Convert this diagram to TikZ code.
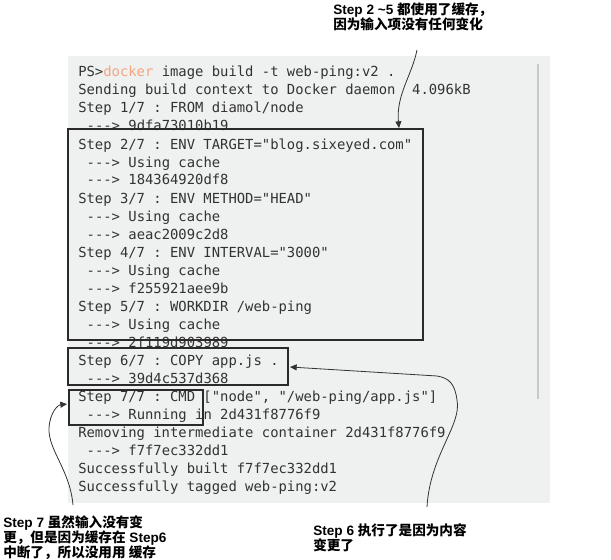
\documentclass[tikz,border=0pt]{standalone}
\usepackage{fontspec}
\setsansfont{Liberation Sans}
\newfontfamily\termfont{DejaVu Sans Mono}[Ligatures=TeXOff]
\newfontfamily\cjk{Noto Sans CJK SC}
\usetikzlibrary{arrows.meta,fit}
\definecolor{termbg}{RGB}{239,240,240}
\definecolor{termtext}{RGB}{51,51,51}
\definecolor{dockerorange}{RGB}{245,165,130}
\definecolor{scrollgray}{RGB}{200,200,200}
\definecolor{boxline}{RGB}{42,42,42}
\newcommand{\zh}[1]{{\cjk\bfseries #1}}
\frenchspacing
\begin{document}
\begin{tikzpicture}[x=0.75pt,y=0.75pt,yscale=-1,xscale=1,
  term/.style={anchor=base west,inner sep=0pt,text=termtext,font=\termfont\frenchspacing\fontsize{10.4}{13.5}\selectfont},
  box/.style={draw=boxline,line width=1.8pt,inner sep=0pt},
  note/.style={anchor=north west,inner sep=0pt,align=left,font=\sffamily\bfseries\fontsize{10.2}{11.25}\selectfont},
  note arrow/.style={draw=black!80,line width=0.6pt,-{Triangle[length=5pt,width=4.5pt]}}]
\useasboundingbox (0,0) rectangle (611,560);

%Shape: Rectangle (terminal background)
\fill [termbg] (68,56) rectangle (550,503);
%Straight Lines (scroll bar)
\draw [scrollgray,line width=2.2pt] (538,64) -- (538,399);

% Text Node
\node [term] (ps) at (78,77) {PS>\textcolor{dockerorange}{docker} image build -t web-ping:v2 .};
% Text Node
\node [term] (send) at (78,95) {Sending build context to Docker daemon~~4.096kB};
% Text Node
\node [term] (s1) at (78,113) {Step 1/7 : FROM diamol/node};
% Text Node
\node [term] (s1id) at (86.4,131) {---> 9dfa73010b19};
% Text Node
\node [term] (s2) at (78,149) {Step 2/7 : ENV TARGET="blog.sixeyed.com"};
% Text Node
\node [term] (s2c) at (86.4,167) {---> Using cache};
% Text Node
\node [term] (s2id) at (86.4,185) {---> 184364920df8};
% Text Node
\node [term] (s3) at (78,203) {Step 3/7 : ENV METHOD="HEAD"};
% Text Node
\node [term] (s3c) at (86.4,221) {---> Using cache};
% Text Node
\node [term] (s3id) at (86.4,239) {---> aeac2009c2d8};
% Text Node
\node [term] (s4) at (78,257) {Step 4/7 : ENV INTERVAL="3000"};
% Text Node
\node [term] (s4c) at (86.4,275) {---> Using cache};
% Text Node
\node [term] (s4id) at (86.4,293) {---> f255921aee9b};
% Text Node
\node [term] (s5) at (78,311) {Step 5/7 : WORKDIR /web-ping};
% Text Node
\node [term] (s5c) at (86.4,329) {---> Using cache};
% Text Node
\node [term] (s5id) at (86.4,347) {---> 2f119d903989};
% Text Node
\node [term] (s6) at (78,365) {Step 6/7 : COPY app.js .};
% Text Node
\node [term] (s6id) at (86.4,383) {---> 39d4c537d368};
% Text Node
\node [term] (s7) at (78,401) {Step 7/7 : CMD ["node", "/web-ping/app.js"]};
% Text Node
\node [term] (s7run) at (86.4,419) {---> Running in 2d431f8776f9};
% Text Node
\node [term] (rm) at (78,437) {Removing intermediate container 2d431f8776f9};
% Text Node
\node [term] (s7id) at (86.4,455) {---> f7f7ec332dd1};
% Text Node
\node [term] (built) at (78,473) {Successfully built f7f7ec332dd1};
% Text Node
\node [term] (tagged) at (78,491) {Successfully tagged web-ping:v2};

%Shape: Rectangle (steps 2-5)
\node [box,fit={(68,129) (423,340)}] (cached) {};
%Shape: Rectangle (step 6)
\node [box,fit={(68,348) (288,385)}] (copied) {};
%Shape: Rectangle (step 7)
\node [box,fit={(69,390) (203,425)}] (cmd) {};

% Text Node
\node [note] (noteTop) at (333,3) {Step 2 \textasciitilde5 \zh{都使用了缓存，}\\\zh{因为输入项没有任何变化}};
% Text Node
\node [note] (noteSix) at (313,523) {Step 6 \zh{执行了是因为内容}\\\zh{变更了}};
% Text Node
\node [note] (noteSeven) at (3,515) {Step 7 \zh{虽然输入没有变}\\\zh{更，但是因为缓存在} Step6\\\zh{中断了，所以没用用 缓存}};

\coordinate (topFrom) at (417,50);
\coordinate (topTo) at (399,128);
\coordinate (sixFrom) at (427,507);
\coordinate (sixTo) at (290,367);
\coordinate (sevenFrom) at (73,505);
\coordinate (sevenTo) at (67,404);

%Curve Lines
\draw [note arrow] (topFrom) .. controls (412,75) and (396,95) .. (topTo);
%Curve Lines
\draw [note arrow] (sixFrom) .. controls (430,455) and (462,425) .. (457,400) .. controls (455,385) and (450,378) .. (437,376) -- (sixTo);
%Curve Lines
\draw [note arrow] (sevenFrom) .. controls (70,470) and (48,450) .. (49,428) .. controls (50,412) and (58,405) .. (sevenTo);

\end{tikzpicture}
\end{document}
